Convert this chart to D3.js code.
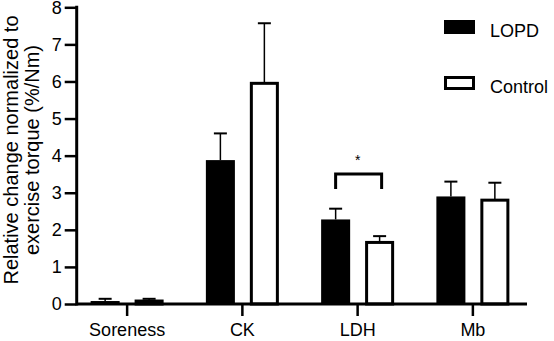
<!DOCTYPE html>
<html>
<head>
<meta charset="utf-8">
<script src="https://cdn.jsdelivr.net/npm/d3@7"></script>
<style>
  body { margin: 0; background: #fff; }
  svg { display: block; font-family: "Liberation Sans", Arial, sans-serif; }
</style>
</head>
<body>
<div id="chart"></div>
<script>
// values (mean and upper error)
const categories = ['Soreness', 'CK', 'LDH', 'Mb'];
const groups = ['LOPD', 'Control'];
const lopdMean = [0.08, 3.88, 2.28, 2.90];
const lopdErr = [0.06, 0.72, 0.29, 0.40];
const controlMean = [0.08, 5.95, 1.66, 2.80];
const controlErr = [0.06, 1.62, 0.17, 0.47];
const yTicks = [0, 1, 2, 3, 4, 5, 6, 7, 8];

let width = 554,
  height = 341;

let data = [];
categories.forEach((c, i) => {
  data.push({ cat: c, group: 'LOPD', value: lopdMean[i], err: lopdErr[i] });
  data.push({ cat: c, group: 'Control', value: controlMean[i], err: controlErr[i] });
});

const axisX = 76.7;

let y = d3.scaleLinear()
  .domain([0, 8])
  .range([304, 7.3]);

let x = d3.scaleBand()
  .domain(categories)
  .range([69.5, 530.5]);

let x1 = d3.scaleBand()
  .domain(groups)
  .range([-36.5, 36.5])
  .paddingInner(0.34);

const svg = d3.select('#chart').append('svg')
  .attr('width', width)
  .attr('height', height);

// bars
const bars = svg.append('g');
bars.selectAll('rect')
  .data(data)
  .enter().append('rect')
  .attr('x', d => x(d.cat) + x.bandwidth() / 2 + x1(d.group) + (d.group === 'Control' ? 1.5 : 0))
  .attr('width', d => x1.bandwidth() - (d.group === 'Control' ? 3 : 0))
  .attr('y', d => y(d.value))
  .attr('height', d => y(0) - y(d.value))
  .attr('fill', d => d.group === 'LOPD' ? '#000' : '#fff')
  .attr('stroke', d => d.group === 'LOPD' ? 'none' : '#000')
  .attr('stroke-width', 3);

// error bars (upper only)
const errs = svg.append('g').attr('stroke', '#000');
const cx = d => x(d.cat) + x.bandwidth() / 2 + x1(d.group) + x1.bandwidth() / 2;
errs.selectAll('line.stem')
  .data(data)
  .enter().append('line')
  .attr('class', 'stem')
  .attr('x1', cx).attr('x2', cx)
  .attr('y1', d => y(d.value))
  .attr('y2', d => y(d.value + d.err))
  .attr('stroke-width', 1.5);
errs.selectAll('line.cap')
  .data(data)
  .enter().append('line')
  .attr('class', 'cap')
  .attr('x1', d => cx(d) - 6.5).attr('x2', d => cx(d) + 6.5)
  .attr('y1', d => y(d.value + d.err))
  .attr('y2', d => y(d.value + d.err))
  .attr('stroke-width', 2);

// y axis
const gy = svg.append('g')
  .attr('transform', `translate(${axisX},0)`)
  .call(d3.axisLeft(y).tickValues(yTicks).tickSize(12).tickSizeOuter(0).tickPadding(3));
gy.select('.domain').attr('stroke-width', 3).attr('d', `M0,${y(8) - 1.5}V${y(0) + 1.5}`);
gy.selectAll('.tick line').attr('stroke-width', 2.5);
gy.selectAll('.tick text').style('font-size', '18px').attr('fill', '#000');

// x axis
const gx = svg.append('g')
  .attr('transform', `translate(0,${y(0)})`)
  .call(d3.axisBottom(x).tickSize(12).tickSizeOuter(0).tickPadding(7));
gx.select('.domain').attr('stroke-width', 3).attr('d', `M${axisX},0H527`);
gx.selectAll('.tick line').attr('stroke-width', 2.5);
gx.selectAll('.tick text').style('font-size', '18px').attr('fill', '#000');

// y title
const title = svg.append('text')
  .attr('transform', 'translate(18,150) rotate(-90)')
  .attr('text-anchor', 'middle')
  .style('font-size', '20px');
title.append('tspan').attr('x', 0).attr('y', 0).text('Relative change normalized to');
title.append('tspan').attr('x', 0).attr('y', 21).text('exercise torque (%/Nm)');

// significance bracket
const ldh = x('LDH') + x.bandwidth() / 2;
svg.append('path')
  .attr('d', `M${ldh - 22},189V174H${ldh + 24}V189`)
  .attr('fill', 'none')
  .attr('stroke', '#000')
  .attr('stroke-width', 3);
svg.append('text')
  .attr('x', ldh)
  .attr('y', 165)
  .attr('text-anchor', 'middle')
  .style('font-size', '14px')
  .text('*');

// legend
const legend = svg.append('g')
  .selectAll('g')
  .data(groups)
  .enter().append('g')
  .attr('transform', (d, i) => `translate(444,${20 + i * 56})`);
legend.append('rect')
  .attr('x', d => d === 'LOPD' ? 0 : 1.5)
  .attr('y', d => d === 'LOPD' ? 0 : 1.5)
  .attr('width', d => d === 'LOPD' ? 31 : 28)
  .attr('height', d => d === 'LOPD' ? 14 : 11)
  .attr('fill', d => d === 'LOPD' ? '#000' : '#fff')
  .attr('stroke', d => d === 'LOPD' ? 'none' : '#000')
  .attr('stroke-width', 3);
legend.append('text')
  .attr('x', 46)
  .attr('y', 17)
  .style('font-size', '18px')
  .text(d => d);
</script>
</body>
</html>
